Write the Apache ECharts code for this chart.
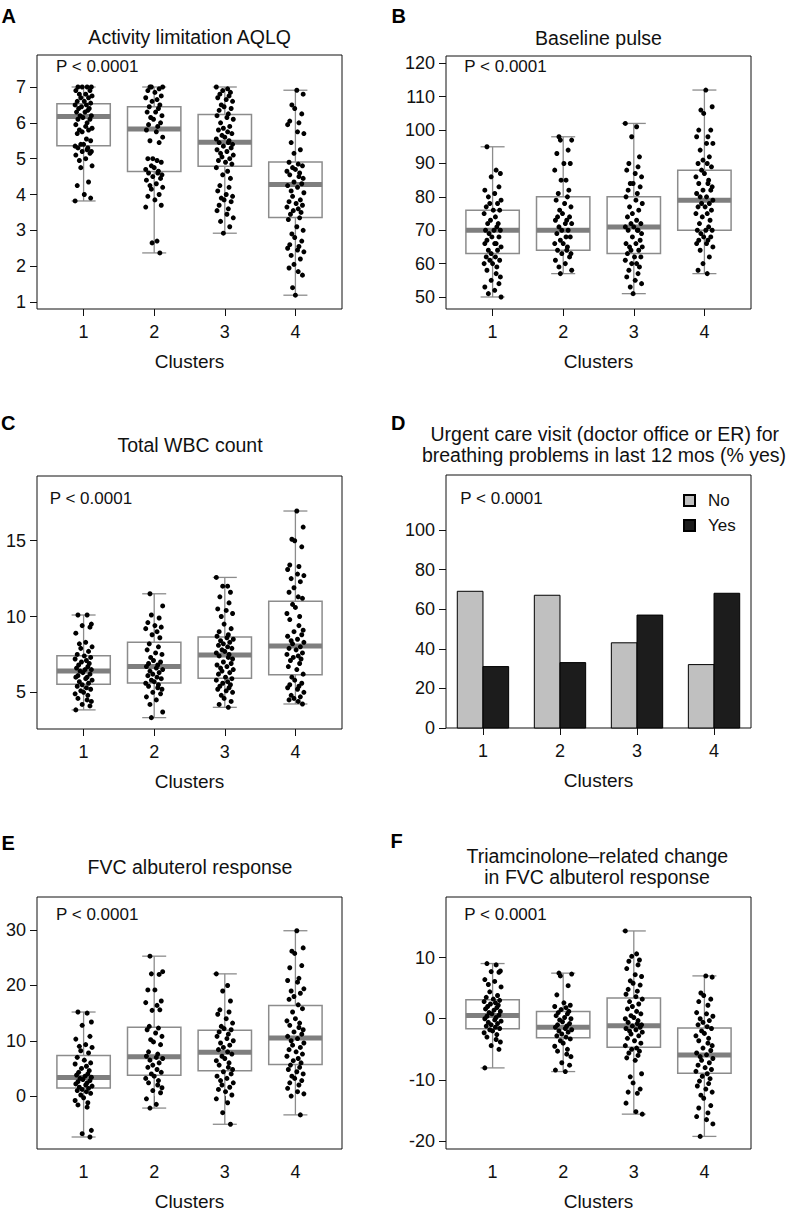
<!DOCTYPE html>
<html>
<head>
<meta charset="utf-8">
<script src="https://cdn.jsdelivr.net/npm/echarts@6/dist/echarts.min.js"></script>
<style>
html,body{margin:0;padding:0;background:#fff;}
#chart{width:792px;height:1214px;}
</style>
</head>
<body>
<div id="chart"></div>
<script>
// ---------- DATA ----------
const clusters = ['1', '2', '3', '4'];

// box stats per cluster: [min, Q1, median, Q3, max]
const aqlqStats = [[3.82, 5.36, 6.18, 6.53, 7.0], [2.37, 4.64, 5.83, 6.45, 7.0], [2.92, 4.79, 5.46, 6.23, 7.0], [1.19, 3.36, 4.28, 4.91, 6.91]];
const pulseStats = [[50, 63, 70, 76, 95], [57, 64, 70, 80, 98], [51, 63, 71, 80, 102], [57, 70, 79, 88, 112]];
const wbcStats = [[3.84, 5.53, 6.41, 7.42, 10.1], [3.33, 5.62, 6.71, 8.3, 11.5], [4.01, 5.92, 7.46, 8.65, 12.58], [4.23, 6.16, 8.05, 11.0, 16.96]];
const fvcStats = [[-7.4, 1.44, 3.36, 7.33, 15.2], [-2.17, 3.78, 7.09, 12.44, 25.3], [-5.1, 4.56, 7.93, 11.9, 22.1], [-3.4, 5.7, 10.5, 16.4, 29.9]];
const triamStats = [[-8.04, -1.63, 0.54, 3.1, 9.02], [-8.64, -3.1, -1.41, 1.2, 7.45], [-15.6, -4.67, -1.14, 3.37, 14.35], [-19.24, -8.91, -5.92, -1.52, 7.0]];

// individual observations per cluster
const aqlqPoints = [
  [7,7,7,7,6.9,6.9,6.8,6.8,6.75,6.7,6.7,6.6,6.6,6.55,6.5,6.5,6.45,6.4,6.4,6.35,6.3,6.3,6.2,6.2,6.15,6.1,6.1,6.0,5.95,5.9,5.85,5.8,5.8,5.75,5.7,5.55,5.5,5.4,5.4,5.35,5.3,5.3,5.25,5.2,5.2,5.15,5.1,5.0,4.95,4.8,4.75,4.35,4.25,4.0,3.9,3.82],
  [7,7,7,6.95,6.9,6.85,6.75,6.7,6.65,6.6,6.5,6.45,6.4,6.3,6.3,6.2,6.15,6.1,6.0,5.95,5.9,5.8,5.75,5.6,5.5,5.45,5.0,5.0,4.95,4.9,4.8,4.75,4.7,4.65,4.6,4.6,4.55,4.5,4.45,4.4,4.3,4.25,4.2,4.15,4.0,3.95,3.85,3.7,3.65,2.7,2.65,2.37],
  [7,6.95,6.9,6.85,6.8,6.75,6.7,6.65,6.6,6.5,6.45,6.4,6.35,6.25,6.2,6.15,6.1,6.0,5.9,5.85,5.8,5.75,5.7,5.65,5.6,5.55,5.5,5.45,5.45,5.4,5.35,5.3,5.25,5.2,5.15,5.1,5.05,5.0,4.95,4.9,4.85,4.75,4.65,4.55,4.45,4.25,4.2,4.1,4.0,3.95,3.9,3.85,3.8,3.7,3.6,3.55,3.45,3.35,3.25,3.1,2.92],
  [6.91,6.8,6.5,6.4,6.25,6.05,6.0,5.95,5.75,5.7,5.45,5.25,5.15,4.9,4.85,4.8,4.75,4.7,4.65,4.6,4.55,4.5,4.45,4.35,4.3,4.25,4.2,4.1,4.05,3.95,3.85,3.8,3.75,3.7,3.65,3.6,3.55,3.5,3.45,3.35,3.3,3.1,3.0,2.9,2.8,2.7,2.6,2.55,2.5,2.45,2.4,2.3,2.2,2.05,1.95,1.85,1.75,1.4,1.19]
];
const pulsePoints = [
  [95,88,87,86,83,82,81,80,79,78,78,77,76,76,75,74,73,72,72,71,70,70,70,69,68,68,67,66,66,66,65,64,64,63,62,62,61,61,60,60,59,58,57,56,55,54,53,52,51,50],
  [98,97,97,94,93,90,90,88,85,85,82,81,80,79,78,77,76,75,74,74,73,73,72,72,71,70,70,69,68,68,67,66,66,65,64,64,63,63,62,61,60,59,58,57],
  [102,101,98,92,90,89,88,87,86,84,84,83,82,81,80,79,78,77,76,75,74,73,72,72,71,71,70,70,70,69,68,67,66,66,65,65,64,64,63,62,62,61,60,60,59,58,57,56,55,54,53,51],
  [112,107,106,105,100,100,98,98,96,96,94,92,91,90,90,89,88,87,86,85,84,84,83,82,82,81,80,80,79,78,78,77,77,76,75,75,74,73,72,71,70,70,70,69,68,68,67,67,66,66,65,64,62,60,58,57]
];
const wbcPoints = [
  [10.1,10.1,9.5,9.4,9.3,8.9,8.3,8.2,8.0,7.9,7.7,7.5,7.4,7.3,7.2,7.1,7.0,6.9,6.8,6.7,6.6,6.5,6.5,6.4,6.3,6.2,6.1,6.0,6.0,5.9,5.8,5.7,5.6,5.5,5.4,5.3,5.2,5.1,5.0,4.9,4.8,4.6,4.5,4.4,4.2,4.1,3.84],
  [11.5,10.7,10.1,9.9,9.6,9.4,9.3,9.2,9.0,8.8,8.6,8.2,8.0,7.8,7.6,7.5,7.3,7.1,7.0,6.9,6.8,6.7,6.6,6.5,6.4,6.3,6.2,6.1,6.0,5.9,5.8,5.7,5.6,5.5,5.4,5.3,5.2,5.0,4.9,4.7,4.5,4.2,3.7,3.33],
  [12.58,12.0,12.0,11.6,11.3,10.9,10.5,10.4,10.2,10.0,9.5,9.2,9.0,8.8,8.7,8.6,8.5,8.4,8.3,8.2,8.1,8.0,7.9,7.8,7.7,7.6,7.5,7.4,7.3,7.2,7.0,6.9,6.8,6.7,6.6,6.5,6.4,6.3,6.2,6.0,5.9,5.8,5.7,5.6,5.5,5.4,5.3,5.2,5.1,5.0,4.8,4.6,4.4,4.2,4.01],
  [16.96,15.9,15.1,15.0,14.6,13.4,13.3,13.1,12.8,12.7,12.5,12.3,11.9,11.6,11.3,11.2,10.8,10.6,10.2,10.0,9.8,9.4,9.1,9.0,8.8,8.7,8.5,8.4,8.3,8.2,8.0,7.9,7.8,7.6,7.5,7.4,7.3,7.2,7.1,6.9,6.7,6.5,6.2,6.0,5.8,5.6,5.5,5.4,5.3,5.2,5.0,4.8,4.7,4.6,4.5,4.4,4.23]
];
const fvcPoints = [
  [15.2,15.0,13.4,12.8,10.8,10.3,9.3,9.0,8.8,8.2,7.8,7.0,6.5,6.0,5.8,5.4,5.0,4.6,4.3,4.0,3.8,3.6,3.4,3.2,3.0,2.8,2.6,2.4,2.2,2.0,1.8,1.6,1.4,1.2,1.0,0.8,0.5,0.2,-0.3,-0.8,-1.2,-1.6,-2.0,-6.2,-6.8,-7.4],
  [25.3,22.5,22.1,22.0,19.2,19.2,17.2,16.9,16.4,15.5,15.6,12.6,12.3,12.0,11.4,10.8,10.2,9.8,9.3,8.0,7.6,7.2,7.0,6.8,6.5,6.0,5.6,5.2,4.8,4.3,4.0,3.6,3.2,2.8,2.4,2.0,1.5,1.0,0.6,-0.5,-1.5,-2.17],
  [22.1,20.0,19.0,17.2,15.6,15.2,14.8,14.0,13.2,12.6,12.2,12.0,11.6,11.2,10.8,10.4,10.0,9.6,9.2,8.8,8.4,8.0,7.6,7.2,6.8,6.4,6.0,5.6,5.2,4.8,4.4,4.0,3.6,3.2,2.8,2.4,2.0,1.6,1.2,0.8,0.2,-0.5,-1.2,-3.0,-5.1],
  [29.9,26.8,26.2,25.8,23.6,23.2,21.3,20.9,20.6,19.4,19.0,18.6,18.0,17.5,16.5,15.8,15.2,14.0,13.6,13.2,12.8,12.4,12.0,11.6,11.2,10.8,10.4,10.0,9.6,9.2,8.8,8.4,8.0,7.6,7.2,6.8,6.4,6.0,5.6,5.2,4.8,4.4,4.0,3.6,3.2,2.8,2.4,2.0,1.4,0.8,0.4,0.0,-3.4]
];
const triamPoints = [
  [9.02,8.8,7.8,7.7,7.6,6.4,6.1,5.6,5.2,4.4,3.8,3.5,3.2,3.0,2.8,2.6,2.4,2.2,2.0,1.8,1.6,1.4,1.2,1.0,0.8,0.6,0.4,0.2,0.0,-0.2,-0.4,-0.6,-0.8,-1.0,-1.2,-1.4,-1.6,-1.8,-2.0,-2.3,-2.6,-3.0,-3.4,-3.8,-4.4,-5.0,-8.04],
  [7.45,7.3,7.0,5.4,3.9,2.6,2.2,2.0,1.8,1.5,1.2,1.0,0.8,0.5,0.2,0.0,-0.2,-0.5,-0.8,-1.0,-1.2,-1.4,-1.6,-1.8,-2.0,-2.2,-2.5,-2.8,-3.0,-3.3,-3.6,-4.0,-4.5,-5.0,-5.3,-5.8,-6.2,-7.2,-7.6,-8.4,-8.64],
  [14.35,10.6,10.2,9.6,9.4,8.8,8.2,7.2,6.9,6.2,5.8,5.5,4.8,4.5,4.0,3.6,3.2,2.8,2.4,2.0,1.6,1.2,0.8,0.5,0.2,0.0,-0.3,-0.6,-0.8,-1.0,-1.2,-1.4,-1.6,-1.8,-2.0,-2.2,-2.5,-2.8,-3.2,-3.6,-4.0,-4.4,-4.8,-5.0,-5.3,-5.6,-6.0,-6.4,-6.8,-9.0,-9.5,-10.5,-11.5,-12.0,-12.2,-13.8,-15.2,-15.6],
  [7.0,6.8,4.2,3.8,3.2,2.8,2.2,1.0,0.8,0.4,0.0,-0.3,-0.6,-1.0,-1.3,-1.6,-2.0,-2.4,-2.8,-3.2,-3.6,-4.0,-4.4,-4.8,-5.2,-5.6,-5.9,-6.2,-6.5,-6.8,-7.2,-7.6,-8.0,-8.3,-8.6,-9.0,-9.4,-9.8,-10.2,-10.6,-11.0,-11.5,-12.0,-12.5,-13.0,-14.2,-14.6,-15.4,-16.0,-16.5,-17.2,-19.24]
];

// urgent care visit (%)
const urgentNo = [69, 67, 43, 32];
const urgentYes = [31, 33, 57, 68];

// horizontal jitter offsets (cluster units), hand-picked
const jitter = [-0.08,0.05,0.11,-0.02,0.09,-0.11,0.03,-0.06,0.12,-0.04,0.07,-0.09,0.01,0.10,-0.12,0.04,-0.03,0.08,-0.07,0.06,-0.10,0.02,0.11,-0.05,-0.01,0.09,-0.08,0.05,-0.11,0.03,0.12,-0.06,0.07,-0.02,-0.09,0.04,0.10,-0.04,0.00,-0.12,0.06];

// tick labels
const aqlqTicks = [1, 2, 3, 4, 5, 6, 7];
const pulseTicks = [50, 60, 70, 80, 90, 100, 110, 120];
const wbcTicks = [5, 10, 15];
const urgentTicks = [0, 20, 40, 60, 80, 100];
const fvcTicks = [0, 10, 20, 30];
const triamTicks = [-20, -10, 0, 10];
const clusterTickPos = [1, 2, 3, 4];
const barTickPos = [2, 5, 8, 11];

// ---------- LAYOUT / STYLE ----------
const FONT = "'Liberation Sans', Arial, Helvetica, sans-serif";
const BOXGRAY = '#8c8c8c';
const MEDGRAY = '#7f7f7f';

const panels = [
  { key: 'A', grid: { left: 37, top: 55, width: 305, height: 254 }, stats: aqlqStats, pts: aqlqPoints, ticks: aqlqTicks, ymin: 0.805, ymax: 7.893 },
  { key: 'B', grid: { left: 446, top: 56, width: 305, height: 253 }, stats: pulseStats, pts: pulsePoints, ticks: pulseTicks, ymin: 46.4, ymax: 122.2 },
  { key: 'C', grid: { left: 37, top: 476, width: 305, height: 253 }, stats: wbcStats, pts: wbcPoints, ticks: wbcTicks, ymin: 2.58, ymax: 19.27 },
  { key: 'D', grid: { left: 446, top: 475, width: 305, height: 253 }, bar: true, ticks: urgentTicks, ymin: 0, ymax: 127.7 },
  { key: 'E', grid: { left: 37, top: 897, width: 305, height: 252 }, stats: fvcStats, pts: fvcPoints, ticks: fvcTicks, ymin: -9.57, ymax: 36.0 },
  { key: 'F', grid: { left: 446, top: 897, width: 305, height: 252 }, stats: triamStats, pts: triamPoints, ticks: triamTicks, ymin: -21.3, ymax: 19.9 }
];

const grids = [], xAxes = [], yAxes = [], series = [];

panels.forEach((p, i) => {
  grids.push(Object.assign({ show: true, borderColor: '#111', borderWidth: 1, backgroundColor: 'transparent' }, p.grid));
  const tickPos = p.bar ? barTickPos : clusterTickPos;
  xAxes.push({
    gridIndex: i, type: 'value',
    min: p.bar ? 0.56 : 0.34, max: p.bar ? 12.44 : 4.66,
    axisLine: { show: false },
    splitLine: { show: false },
    axisTick: { show: true, inside: false, length: 7, lineStyle: { color: '#111', width: 1 }, customValues: tickPos },
    axisLabel: { show: true, margin: 14, fontSize: 18, fontFamily: FONT, color: '#111', customValues: tickPos,
      formatter: v => clusters[tickPos.indexOf(v)] },
    name: 'Clusters', nameLocation: 'middle', nameGap: 43,
    nameTextStyle: { fontSize: 19, fontFamily: FONT, color: '#111' }
  });
  yAxes.push({
    gridIndex: i, type: 'value', min: p.ymin, max: p.ymax,
    axisLine: { show: false },
    splitLine: { show: false },
    axisTick: { show: true, inside: false, length: 7, lineStyle: { color: '#111', width: 1 }, customValues: p.ticks },
    axisLabel: { show: true, margin: 11, fontSize: 18, fontFamily: FONT, color: '#111', customValues: p.ticks }
  });

  if (p.bar) {
    const mkBar = (name, vals, offset, color) => ({
      type: 'custom', name, xAxisIndex: i, yAxisIndex: i,
      itemStyle: { color, borderColor: '#000', borderWidth: 1 },
      data: vals.map((v, g) => [g + 1, v]),
      renderItem: (params, api) => {
        const g = api.value(0), v = api.value(1);
        const x0 = 3 * g - 2 + offset;
        const tl = api.coord([x0, v]);
        const br = api.coord([x0 + 1, 0]);
        return { type: 'rect', shape: { x: tl[0], y: tl[1], width: br[0] - tl[0], height: br[1] - tl[1] },
          style: { fill: color, stroke: '#000', lineWidth: 1 } };
      }
    });
    series.push(mkBar('No', urgentNo, 0, '#c0c0c0'));
    series.push(mkBar('Yes', urgentYes, 1, '#1c1c1c'));
  } else {
    series.push({
      type: 'custom', xAxisIndex: i, yAxisIndex: i, silent: true,
      data: p.stats.map((s, c) => [c + 1].concat(s)),
      renderItem: (params, api) => {
        const c = api.value(0);
        const lo = api.value(1), q1 = api.value(2), md = api.value(3), q3 = api.value(4), hi = api.value(5);
        const pt = (dx, v) => api.coord([c + dx, v]);
        const ln = (a, b, w, col) => ({ type: 'line', shape: { x1: a[0], y1: a[1], x2: b[0], y2: b[1] }, style: { stroke: col, lineWidth: w } });
        const bw = 0.378, sw = 0.17;
        const tl = pt(-bw, q3), br = pt(bw, q1);
        return { type: 'group', children: [
          ln(pt(0, lo), pt(0, q1), 1.3, BOXGRAY),
          ln(pt(0, q3), pt(0, hi), 1.3, BOXGRAY),
          ln(pt(-sw, lo), pt(sw, lo), 1.3, BOXGRAY),
          ln(pt(-sw, hi), pt(sw, hi), 1.3, BOXGRAY),
          { type: 'rect', shape: { x: tl[0], y: tl[1], width: br[0] - tl[0], height: br[1] - tl[1] }, style: { fill: '#fff', stroke: BOXGRAY, lineWidth: 1.5 } },
          ln(pt(-bw, md), pt(bw, md), 5, MEDGRAY)
        ] };
      }
    });
    const data = [];
    p.pts.forEach((arr, c) => arr.forEach((v, k) => data.push([c + 1 + jitter[(k + c * 7) % jitter.length], v])));
    series.push({ type: 'scatter', xAxisIndex: i, yAxisIndex: i, data, symbol: 'circle', symbolSize: 5,
      itemStyle: { color: '#000', opacity: 1 }, silent: true });
  }
});

// text elements
const T = (text, x, y, opt) => Object.assign({ type: 'text', x, y, silent: true,
  style: Object.assign({ text, fill: '#111', font: `19.5px ${FONT}`, textAlign: 'center', textVerticalAlign: 'middle' }, opt || {}) });
const P = (x, y) => T('P < 0.0001', x, y, { font: `17px ${FONT}`, textAlign: 'left' });
const L = (t, x, y) => T(t, x, y, { font: `bold 20px ${FONT}`, textAlign: 'left', fill: '#000' });

const graphics = [
  L('A', 1.5, 15.7), L('B', 391.5, 15.7), L('C', 1, 423), L('D', 391, 423), L('E', 1.5, 843), L('F', 390.5, 841),
  T('Activity limitation AQLQ', 189.7, 37.2),
  T('Baseline pulse', 598.5, 37.5),
  T('Total WBC count', 190, 444.9),
  T('Urgent care visit (doctor office or ER) for', 604.8, 434.2),
  T('breathing problems in last 12 mos (% yes)', 604, 454.9),
  T('FVC albuterol response', 190, 866.5),
  T('Triamcinolone\u2013related change', 597.3, 855.9),
  T('in FVC albuterol response', 597, 877.2),
  P(56, 66.7), P(464.3, 66.7), P(49.7, 498), P(460.3, 498), P(56, 914.3), P(464.3, 914.3)
];

const chart = echarts.init(document.getElementById('chart'), null, { renderer: 'svg', width: 792, height: 1214 });
chart.setOption({
  animation: false,
  backgroundColor: '#fff',
  textStyle: { fontFamily: FONT },
  grid: grids,
  xAxis: xAxes,
  yAxis: yAxes,
  legend: {
    orient: 'vertical', left: 683, top: 492, padding: 0, itemWidth: 11, itemHeight: 11, itemGap: 8,
    data: [{ name: 'No', icon: 'rect' }, { name: 'Yes', icon: 'rect' }],
    textStyle: { fontSize: 17, fontFamily: FONT, color: '#111', padding: [0, 0, 0, 8] },
    selectedMode: false
  },
  series,
  graphic: { elements: graphics }
});
</script>
</body>
</html>
